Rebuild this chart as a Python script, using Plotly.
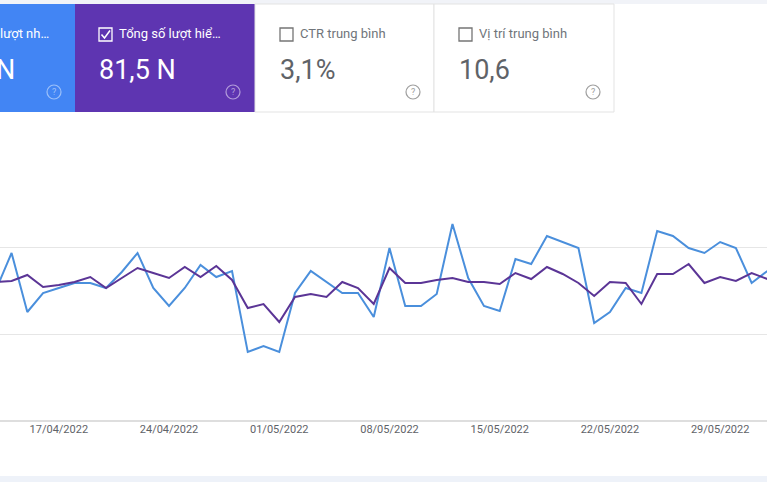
import plotly.graph_objects as go
import pandas as pd

# daily values (arbitrary units)
dates = pd.date_range("2022-04-13", periods=50, freq="D")
clicks = [131, 168, 109, 128, 133, 138, 138, 133, 149, 168, 133, 115, 133, 156, 144, 150, 69, 75, 69, 128,
          150, 139, 128, 128, 104, 173, 115, 115, 127, 197, 143, 115, 110, 162, 157, 185, 179, 173, 98, 109,
          133, 128, 190, 185, 173, 168, 179, 173, 138, 150]
impressions = [139, 140, 146, 134, 136, 139, 144, 133, 143, 153, 148, 143, 154, 144, 155, 141, 113, 117, 99, 124,
               127, 124, 139, 133, 117, 153, 138, 138, 141, 143, 139, 139, 137, 148, 142, 154, 147, 138, 125, 139,
               138, 117, 147, 147, 157, 138, 144, 140, 148, 142]
tick_dates = ["2022-04-17", "2022-04-24", "2022-05-01", "2022-05-08", "2022-05-15", "2022-05-22", "2022-05-29"]
tick_labels = ["17/04/2022", "24/04/2022", "01/05/2022", "08/05/2022", "15/05/2022", "22/05/2022", "29/05/2022"]

W, H = 767, 482
TOP, BOT = 160, 421  # plot area in pixels
def px(x): return x / W
def py(y): return (BOT - y) / (BOT - TOP)  # paper coords are relative to the plot area

fig = go.Figure()
fig.add_trace(go.Scatter(x=dates, y=clicks, mode="lines", line=dict(color="#4a8fdc", width=2), hoverinfo="skip"))
fig.add_trace(go.Scatter(x=dates, y=impressions, mode="lines", line=dict(color="#5b3596", width=2), hoverinfo="skip"))

shapes = [
    dict(type="rect", xref="paper", yref="paper", x0=px(0), x1=px(767), y0=py(0), y1=py(4), fillcolor="#f1f3f8", line_width=0),
    dict(type="rect", xref="paper", yref="paper", x0=px(0), x1=px(767), y0=py(476), y1=py(482), fillcolor="#eef2f9", line_width=0),
    dict(type="rect", xref="paper", yref="paper", x0=px(0), x1=px(75), y0=py(4), y1=py(112), fillcolor="#4285f4", line_width=0),
    dict(type="rect", xref="paper", yref="paper", x0=px(75), x1=px(255), y0=py(4), y1=py(112), fillcolor="#5e35b1", line_width=0),
    dict(type="rect", xref="paper", yref="paper", x0=px(255), x1=px(434), y0=py(4), y1=py(112), fillcolor="white", line=dict(color="#e3e3e3", width=1)),
    dict(type="rect", xref="paper", yref="paper", x0=px(434), x1=px(614), y0=py(4), y1=py(112), fillcolor="white", line=dict(color="#e3e3e3", width=1)),
    dict(type="line", xref="paper", yref="paper", x0=0, x1=1, y0=0, y1=0, line=dict(color="#bdbdbd", width=1)),
]
# checkboxes
for cx, col in [(99, "white"), (280, "#757575"), (459, "#757575")]:
    shapes.append(dict(type="rect", xref="paper", yref="paper", x0=px(cx), x1=px(cx + 13), y0=py(41), y1=py(28),
                       line=dict(color=col, width=1.3)))
shapes.append(dict(type="path", xref="paper", yref="paper",
                   path=f"M {px(101.5)} {py(34.5)} L {px(104.5)} {py(38)} L {px(110)} {py(30.5)}",
                   line=dict(color="white", width=1.5)))

ann = []
def text(x, y, t, size, color, anchor="left"):
    ann.append(dict(x=px(x), y=py(y), xref="paper", yref="paper", text=t, showarrow=False, xanchor=anchor,
                    yanchor="middle", font=dict(size=size, color=color, family="Roboto")))

text(-2, 34, "lượt nh…", 13, "white")
text(-6, 70, "N", 27, "white")
text(117, 34, "Tổng số lượt hiể…", 13, "white")
text(97, 70, "81,5 N", 27, "white")
text(298, 34, "CTR trung bình", 13, "#70757a")
text(278, 70, "3,1%", 27, "#5f6368")
text(477, 34, "Vị trí trung bình", 13, "#70757a")
text(457, 70, "10,6", 27, "#5f6368")
for qx, col in [(54, "#9cc0f9"), (233, "#b39ddb"), (413, "#9e9e9e"), (593, "#9e9e9e")]:
    shapes.append(dict(type="circle", xref="paper", yref="paper", x0=px(qx - 7), x1=px(qx + 7), y0=py(99), y1=py(85),
                       line=dict(color=col, width=1.2)))
    text(qx, 92, "?", 9, col, anchor="center")

fig.update_layout(
    width=W, height=H, margin=dict(l=0, r=0, t=TOP, b=H - BOT),
    paper_bgcolor="white", plot_bgcolor="white", showlegend=False,
    shapes=shapes, annotations=ann,
    xaxis=dict(range=["2022-04-13 06:22", "2022-05-31 23:24"], tickvals=tick_dates, ticktext=tick_labels,
               showgrid=False, zeroline=False, ticks="", tickfont=dict(size=11, color="#5f6368", family="Roboto")),
    yaxis=dict(range=[0, 261], tickvals=[87, 174, 261], showticklabels=False, gridcolor="#e6e6e6",
               zeroline=False, fixedrange=True),
)

fig.write_html("out.html", config={"displayModeBar": False},
               post_script="document.body.style.margin='0';")
